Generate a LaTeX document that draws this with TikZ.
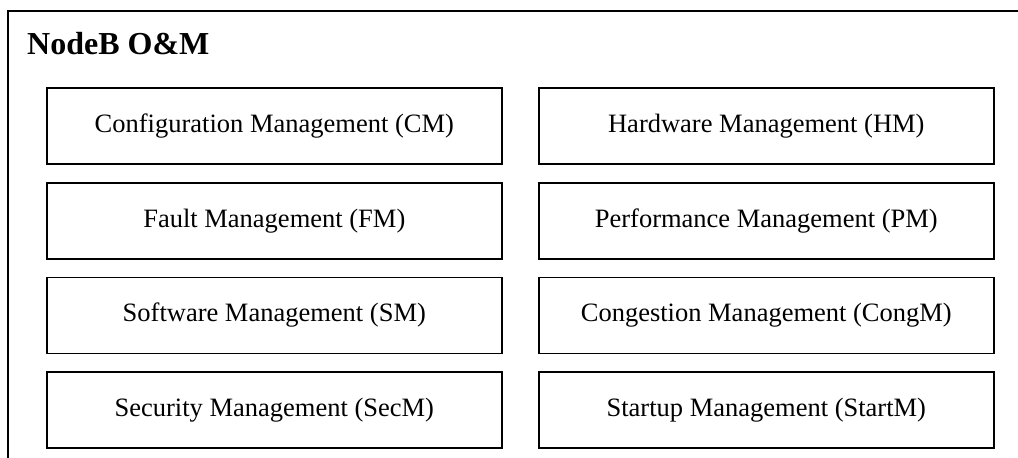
\documentclass[tikz,border=0pt]{standalone}
\usepackage{fontspec}
\setmainfont{Liberation Serif}
\begin{document}
\begin{tikzpicture}[x=1pt,y=-1pt,
  mgmt/.style={draw=black,line width=1.6pt,minimum width=455pt,minimum height=76pt,inner sep=0pt,
    font=\fontsize{26.5pt}{30pt}\selectfont,anchor=north west},
  frame/.style={draw=black,line width=1.8pt}]
\useasboundingbox (0,0) rectangle (1018,458);
\clip (0,0) rectangle (1018,458);
\coordinate (fbl) at (8,470);
\coordinate (ftl) at (8,11);
\coordinate (ftr) at (1030,11);
\draw[frame] (fbl) -- (ftl) -- (ftr);
\node[anchor=base west,inner sep=0pt,font=\fontsize{32pt}{36pt}\selectfont\bfseries] (title) at (27,54) {NodeB O\&M};
\node[mgmt] (cm) at (46,87) {Configuration Management (CM)};
\node[mgmt] (hm) at (538,87) {Hardware Management (HM)};
\node[mgmt] (fm) at (46,182) {Fault Management (FM)};
\node[mgmt] (pm) at (538,182) {Performance Management (PM)};
\node[mgmt] (sm) at (46,276.5) {Software Management (SM)};
\node[mgmt] (cg) at (538,276.5) {Congestion Management (CongM)};
\node[mgmt] (sec) at (46,371) {Security Management (SecM)};
\node[mgmt] (st) at (538,371) {Startup Management (StartM)};
\end{tikzpicture}
\end{document}
